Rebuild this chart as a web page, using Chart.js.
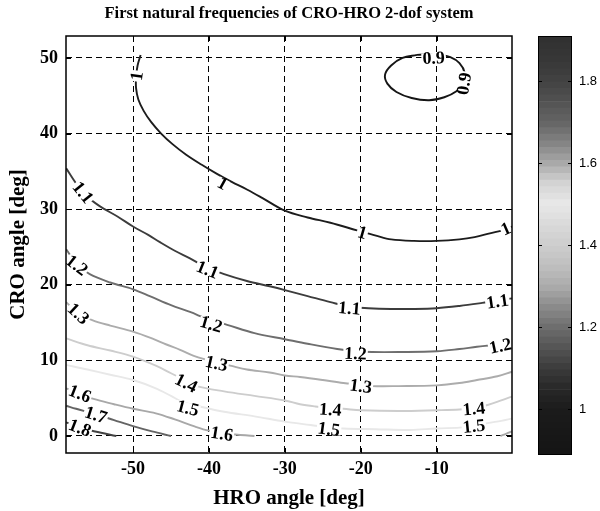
<!DOCTYPE html>
<html><head><meta charset="utf-8">
<script src="https://cdn.jsdelivr.net/npm/chart.js@4.4.0/dist/chart.umd.min.js"></script>
<style>
html,body{margin:0;padding:0;background:#fff;width:600px;height:511px;overflow:hidden}
#main{position:absolute;left:0;top:0}
#cbar{position:absolute;left:520px;top:0}
</style></head><body>
<canvas id="main" width="578" height="511"></canvas>
<canvas id="cbar" width="80" height="511"></canvas>
<script>
// ---- data (HRO angle x, CRO angle y) ----
const levels = [0.9, 1.0, 1.1, 1.2, 1.3, 1.4, 1.5, 1.6, 1.7, 1.8];
const xTicks = [-50, -40, -30, -20, -10];
const yTicks = [0, 10, 20, 30, 40, 50];
const cbTicks = [1, 1.2, 1.4, 1.6, 1.8];

const c090 = [[-12.6,50.4],[-14.5,50.0],[-16.0,49.0],[-16.8,47.8],[-16.5,46.6],[-15.3,45.5],[-13.3,44.7],[-11.0,44.4],[-9.0,44.8],[-7.4,45.6],[-6.5,46.6],[-6.3,48.0],[-7.0,49.3],[-8.2,50.1],[-10.0,50.5],[-12.6,50.4]];
const c100 = [[-49.0,50.4],[-49.4,49.0],[-49.6,47.5],[-49.6,46.0],[-49.3,44.5],[-48.6,43.0],[-47.6,41.5],[-46.3,40.0],[-44.8,38.6],[-43.0,37.2],[-41.0,35.9],[-39.0,34.7],[-37.0,33.6],[-35.0,32.6],[-33.0,31.5],[-30.0,29.8],[-27.0,28.9],[-24.0,28.2],[-20.5,27.2],[-18.0,26.5],[-16.0,26.0],[-13.0,25.8],[-10.0,25.8],[-7.0,26.0],[-5.0,26.3],[-3.0,26.8],[-1.0,27.3],[-0.1,27.7]];
const c110 = [[-58.8,35.4],[-57.5,33.4],[-56.2,31.8],[-54.4,30.4],[-52.0,29.0],[-50.0,27.7],[-48.0,26.6],[-46.4,25.6],[-44.5,24.5],[-42.5,23.5],[-40.5,22.4],[-38.0,21.4],[-35.0,20.5],[-32.0,19.8],[-30.0,19.3],[-27.0,18.5],[-24.0,17.7],[-21.5,17.1],[-19.0,16.9],[-16.0,16.8],[-13.0,16.8],[-10.0,16.9],[-7.0,17.2],[-4.0,17.6],[-2.0,17.9],[-0.1,18.2]];
const c120 = [[-58.8,24.7],[-57.4,22.7],[-55.7,21.4],[-53.0,20.3],[-50.0,19.4],[-47.8,18.5],[-45.0,17.3],[-42.5,16.4],[-40.0,15.4],[-37.6,14.7],[-34.0,13.6],[-30.0,12.8],[-27.0,12.2],[-23.1,11.5],[-20.7,11.2],[-18.5,11.1],[-15.0,11.1],[-10.0,11.2],[-7.0,11.5],[-4.7,11.8],[-2.0,12.1],[-0.1,12.5]];
const c130 = [[-58.8,17.7],[-57.2,16.2],[-55.3,15.3],[-53.0,14.6],[-50.0,13.8],[-47.5,12.9],[-45.6,12.1],[-43.8,11.4],[-42.0,10.6],[-39.0,9.7],[-37.2,9.3],[-35.0,8.8],[-32.0,8.4],[-30.0,8.0],[-28.0,7.8],[-25.0,7.4],[-22.3,7.0],[-20.0,6.8],[-18.5,6.6],[-15.0,6.6],[-10.0,6.7],[-7.0,7.0],[-4.7,7.4],[-2.0,7.9],[-0.1,8.5]];
const c140 = [[-58.8,12.9],[-56.0,12.0],[-53.0,11.3],[-50.0,10.5],[-47.0,9.3],[-45.0,8.3],[-43.0,7.3],[-41.6,6.6],[-38.0,5.9],[-34.0,5.3],[-30.0,4.7],[-28.0,4.2],[-26.0,3.9],[-24.0,3.7],[-22.3,3.6],[-20.0,3.4],[-15.0,3.3],[-10.0,3.4],[-7.0,3.5],[-5.0,3.7],[-3.3,4.1],[-1.5,4.7],[-0.1,5.2]];
const c150 = [[-58.8,9.4],[-56.0,8.8],[-53.0,8.1],[-50.0,7.4],[-47.0,6.3],[-45.0,5.3],[-43.5,4.5],[-41.2,3.9],[-38.0,3.2],[-34.0,2.6],[-30.0,1.9],[-26.6,1.45],[-24.0,1.1],[-22.3,1.0],[-18.0,0.9],[-13.5,0.8],[-10.0,1.0],[-7.0,1.1],[-5.0,1.3],[-3.3,1.7],[-1.5,2.0],[-0.1,2.3]];
const c160 = [[-58.8,6.3],[-57.0,5.6],[-55.2,4.9],[-52.5,4.2],[-50.0,3.6],[-47.0,3.0],[-44.5,2.2],[-42.0,1.3],[-40.0,0.7],[-37.5,0.3],[-34.0,0.0]];
const c160b = [[-1.6,0.0],[-0.8,0.3],[-0.1,0.6]];
const c170 = [[-58.8,4.0],[-57.5,3.6],[-55.0,2.9],[-52.5,2.1],[-50.0,1.3],[-47.5,0.6],[-45.0,0.0]];
const c180 = [[-58.8,1.8],[-57.0,1.1],[-55.0,0.6],[-52.2,0.0]];

const lab090 = [[-10.4,50.0],[-6.4,46.6]];
const lab100 = [[-49.5,47.6],[-38.2,33.4],[-19.8,26.9],[-0.9,27.4]];
const lab110 = [[-56.6,32.2],[-40.2,22.0],[-21.5,16.9],[-2.0,17.8]];
const lab120 = [[-57.4,22.6],[-39.7,14.8],[-20.7,10.9],[-1.6,11.9]];
const lab130 = [[-57.2,16.2],[-39.0,9.6],[-20.0,6.6]];
const lab140 = [[-43.0,7.0],[-24.0,3.5],[-5.1,3.6]];
const lab150 = [[-42.8,3.7],[-24.2,0.9],[-5.1,1.3]];
const lab160 = [[-57.0,5.6],[-38.3,0.3]];
const lab170 = [[-54.9,2.8]];
const lab180 = [[-57.0,1.1]];

// ---- style ----
const cmapVals = [0.888, 1.0, 1.05, 1.1, 1.15, 1.2, 1.25, 1.3, 1.35, 1.4, 1.45, 1.5, 1.55, 1.6, 1.65, 1.7, 1.75, 1.8, 1.85, 1.91];
const cmapGray = [20, 28, 40, 60, 85, 110, 140, 172, 192, 205, 218, 232, 212, 168, 130, 100, 82, 66, 55, 48];
function grayAt(v) {
  if (v <= cmapVals[0]) return cmapGray[0];
  for (let i = 1; i < cmapVals.length; i++) {
    if (v <= cmapVals[i]) {
      const t = (v - cmapVals[i-1]) / (cmapVals[i] - cmapVals[i-1]);
      return cmapGray[i-1] + t * (cmapGray[i] - cmapGray[i-1]);
    }
  }
  return cmapGray[cmapGray.length-1];
}
function grayCss(v) { const g = Math.round(grayAt(v)); return `rgb(${g},${g},${g})`; }

const contours = [
  {level: 0.9, pts: c090, labels: lab090},
  {level: 1.0, pts: c100, labels: lab100},
  {level: 1.1, pts: c110, labels: lab110},
  {level: 1.2, pts: c120, labels: lab120},
  {level: 1.3, pts: c130, labels: lab130},
  {level: 1.4, pts: c140, labels: lab140},
  {level: 1.5, pts: c150, labels: lab150},
  {level: 1.6, pts: c160, labels: lab160},
  {level: 1.6, pts: c160b, labels: []},
  {level: 1.7, pts: c170, labels: lab170},
  {level: 1.8, pts: c180, labels: lab180},
];

const serif = '"Liberation Serif", "Times New Roman", serif';
const sans = '"Liberation Sans", Arial, sans-serif';
const titleText = 'First natural frequencies of CRO-HRO 2-dof system';

const datasets = contours.map(c => ({
  data: c.pts.map(([x, y]) => ({x, y})),
  showLine: true,
  borderColor: grayCss(c.level),
  borderWidth: 1.9,
  pointRadius: 0,
  tension: 0.35,
  fill: false
}));

const labelPlugin = {
  id: 'clabels',
  afterDatasetsDraw(chart) {
    const {ctx, chartArea: ca, scales: {x, y}} = chart;
    ctx.save();
    ctx.beginPath(); ctx.rect(ca.left, ca.top, ca.right - ca.left, ca.bottom - ca.top); ctx.clip();
    ctx.font = `bold 18px ${serif}`;
    ctx.textAlign = 'center'; ctx.textBaseline = 'middle';
    contours.forEach(c => {
      const P = c.pts.map(([a, b]) => [x.getPixelForValue(a), y.getPixelForValue(b)]);
      c.labels.forEach(([lx, ly]) => {
        const px = x.getPixelForValue(lx), py = y.getPixelForValue(ly);
        let best = Infinity, ang = 0;
        for (let i = 0; i < P.length - 1; i++) {
          const [ax, ay] = P[i], [bx, by] = P[i+1];
          const dx = bx - ax, dy = by - ay, L = dx*dx + dy*dy || 1;
          let t = ((px - ax)*dx + (py - ay)*dy) / L; t = Math.max(0, Math.min(1, t));
          const qx = ax + t*dx - px, qy = ay + t*dy - py, d = qx*qx + qy*qy;
          if (d < best) { best = d; ang = Math.atan2(dy, dx); }
        }
        if (ang > Math.PI/2) ang -= Math.PI;
        if (ang < -Math.PI/2) ang += Math.PI;
        const txt = String(c.level);
        ctx.save();
        ctx.translate(px, py); ctx.rotate(ang);
        const w = ctx.measureText(txt).width;
        ctx.fillStyle = '#fff';
        ctx.fillRect(-w/2 - 1, -5, w + 2, 10);
        ctx.fillStyle = '#000';
        ctx.fillText(txt, 0, 1);
        ctx.restore();
      });
    });
    ctx.restore();
  }
};

const framePlugin = {
  id: 'frame',
  afterDraw(chart) {
    const {ctx, chartArea: ca, scales: {x, y}} = chart;
    ctx.save();
    ctx.strokeStyle = '#000'; ctx.lineWidth = 1;
    ctx.beginPath();
    xTicks.forEach(v => {
      const p = Math.round(x.getPixelForValue(v)) + 0.5;
      ctx.moveTo(p, ca.bottom); ctx.lineTo(p, ca.bottom - 5);
      ctx.moveTo(p, ca.top); ctx.lineTo(p, ca.top + 5);
    });
    yTicks.forEach(v => {
      const p = Math.round(y.getPixelForValue(v)) + 0.5;
      ctx.moveTo(ca.left, p); ctx.lineTo(ca.left + 5, p);
      ctx.moveTo(ca.right, p); ctx.lineTo(ca.right - 5, p);
    });
    ctx.stroke();
    ctx.lineWidth = 1.5;
    ctx.strokeRect(ca.left, ca.top, ca.right - ca.left, ca.bottom - ca.top);
    // title centred over the plot area
    ctx.fillStyle = '#000';
    ctx.font = `bold 16.5px ${serif}`;
    ctx.textAlign = 'center'; ctx.textBaseline = 'middle';
    ctx.fillText(titleText, (ca.left + ca.right) / 2, 14);
    ctx.restore();
  }
};

new Chart(document.getElementById('main'), {
  type: 'scatter',
  data: {datasets},
  options: {
    responsive: false, animation: false,
    layout: {padding: {left: 0, right: 66, top: 36, bottom: 0}},
    plugins: {legend: {display: false}, tooltip: {enabled: false}, title: {display: false}},
    scales: {
      x: {
        type: 'linear', min: -58.83, max: -0.08,
        afterBuildTicks: s => { s.ticks = xTicks.map(v => ({value: v})); },
        afterFit: s => { s.height = 58; },
        grid: {color: '#000', lineWidth: 1, drawTicks: false},
        border: {display: false, dash: [6, 4]},
        ticks: {color: '#000', font: {family: serif, size: 18, weight: 'bold'}, padding: 6, maxRotation: 0, autoSkip: false},
        title: {display: true, text: 'HRO angle [deg]', color: '#000', font: {family: serif, size: 21, weight: 'bold'}, padding: {top: 12, bottom: 0}}
      },
      y: {
        type: 'linear', min: -2.25, max: 52.9,
        afterBuildTicks: s => { s.ticks = yTicks.map(v => ({value: v})); },
        afterFit: s => { s.width = 66; },
        grid: {color: '#000', lineWidth: 1, drawTicks: false},
        border: {display: false, dash: [6, 4]},
        ticks: {color: '#000', font: {family: serif, size: 18, weight: 'bold'}, padding: 8, autoSkip: false},
        title: {display: true, text: 'CRO angle [deg]', color: '#000', font: {family: serif, size: 21, weight: 'bold'}, padding: {top: 6, bottom: 0}}
      }
    }
  },
  plugins: [labelPlugin, framePlugin]
});

// ---- colorbar ----
const cbMin = 0.888, cbMax = 1.91, nBands = 64;
const bandDatasets = [];
for (let i = 0; i < nBands; i++) {
  const lo = cbMin + (cbMax - cbMin) * i / nBands;
  const hi = cbMin + (cbMax - cbMin) * (i + 1) / nBands;
  bandDatasets.push({
    data: [[lo, hi]], backgroundColor: grayCss((lo + hi) / 2), borderWidth: 0,
    grouped: false, barPercentage: 1, categoryPercentage: 1
  });
}
const cbFrame = {
  id: 'cbframe',
  afterDraw(chart) {
    const {ctx, chartArea: ca, scales: {y}} = chart;
    ctx.save();
    ctx.strokeStyle = '#000'; ctx.lineWidth = 1;
    ctx.beginPath();
    cbTicks.forEach(v => {
      const p = Math.round(y.getPixelForValue(v)) + 0.5;
      ctx.moveTo(ca.left, p); ctx.lineTo(ca.left + 4, p);
      ctx.moveTo(ca.right, p); ctx.lineTo(ca.right - 4, p);
    });
    ctx.stroke();
    ctx.strokeRect(Math.round(ca.left) + 0.5, Math.round(ca.top) + 0.5, Math.round(ca.right - ca.left) - 1, Math.round(ca.bottom - ca.top) - 1);
    ctx.restore();
  }
};
new Chart(document.getElementById('cbar'), {
  type: 'bar',
  data: {labels: [''], datasets: bandDatasets},
  options: {
    responsive: false, animation: false,
    layout: {padding: {left: 18, top: 36, bottom: 56, right: 0}},
    plugins: {legend: {display: false}, tooltip: {enabled: false}},
    scales: {
      x: {display: false},
      y: {
        position: 'right', min: cbMin, max: cbMax,
        afterBuildTicks: s => { s.ticks = cbTicks.map(v => ({value: v})); },
        afterFit: s => { s.width = 28; },
        grid: {display: false, drawTicks: false}, border: {display: false},
        ticks: {color: '#000', font: {family: sans, size: 13}, padding: 7, autoSkip: false, callback: v => String(v)}
      }
    }
  },
  plugins: [cbFrame]
});
</script>
</body></html>
